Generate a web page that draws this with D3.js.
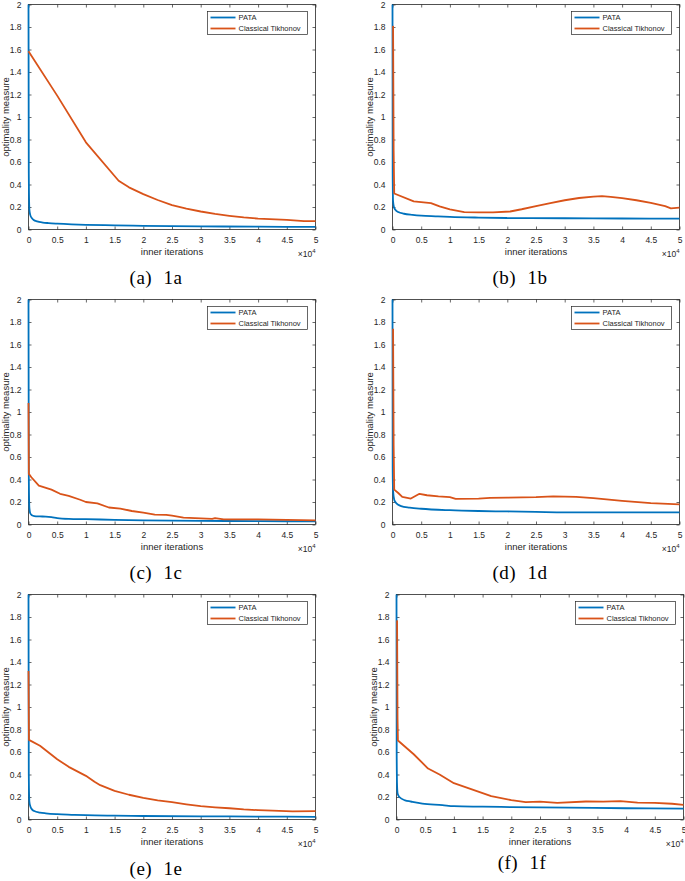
<!DOCTYPE html>
<html>
<head>
<meta charset="utf-8">
<script src="https://cdn.jsdelivr.net/npm/d3@7"></script>
<style>
  html, body { margin: 0; padding: 0; background: #ffffff; }
  svg { display: block; }
</style>
</head>
<body>
<svg id="chart" width="685" height="881"></svg>
<script>
// ---------------- DATA ----------------
const seriesNames = ["PATA", "Classical Tikhonov"];
const panelIds = ["1a", "1b", "1c", "1d", "1e", "1f"];
const panelLetters = ["a", "b", "c", "d", "e", "f"];
const xTickValues = [0, 5000, 10000, 15000, 20000, 25000, 30000, 35000, 40000, 45000, 50000];
const xTickLabels = ["0", "0.5", "1", "1.5", "2", "2.5", "3", "3.5", "4", "4.5", "5"];
const yTickValues = [0, 0.2, 0.4, 0.6, 0.8, 1, 1.2, 1.4, 1.6, 1.8, 2];
const yTickLabels = ["0", "0.2", "0.4", "0.6", "0.8", "1", "1.2", "1.4", "1.6", "1.8", "2"];
const xLabel = "inner iterations";
const yLabel = "optimality measure";

// 1a
const pata1aIter = [0, 50, 150, 300, 600, 900, 1500, 2500, 3500, 5000, 7500, 10000, 15000, 20000, 30000, 40000, 50000];
const pata1aVal  = [2.0, 0.5, 0.18, 0.13, 0.1, 0.085, 0.072, 0.062, 0.057, 0.052, 0.046, 0.042, 0.037, 0.033, 0.028, 0.025, 0.023];
const tikh1aIter = [0, 5000, 10000, 15700, 17500, 20000, 22500, 25000, 27500, 30000, 32500, 35000, 37500, 40000, 45000, 48000, 50000];
const tikh1aVal  = [1.585, 1.19, 0.775, 0.433, 0.375, 0.315, 0.262, 0.217, 0.185, 0.16, 0.138, 0.122, 0.108, 0.097, 0.086, 0.074, 0.074];

// 1b
const pata1bIter = [0, 30, 100, 250, 500, 1000, 2000, 3500, 5000, 7500, 10000, 15000, 20000, 30000, 40000, 50000];
const pata1bVal  = [2.0, 0.5, 0.25, 0.2, 0.175, 0.155, 0.14, 0.13, 0.123, 0.117, 0.112, 0.106, 0.102, 0.1, 0.098, 0.097];
const tikh1bIter = [100, 200, 300, 3700, 6700, 8200, 10000, 12500, 15000, 17500, 20500, 22500, 25000, 27500, 30000, 32500, 35000, 36500, 38000, 40000, 42500, 45000, 47500, 48500, 50000];
const tikh1bVal  = [1.81, 0.7, 0.32, 0.25, 0.235, 0.205, 0.178, 0.155, 0.152, 0.153, 0.16, 0.18, 0.208, 0.235, 0.26, 0.28, 0.293, 0.297, 0.29, 0.278, 0.26, 0.237, 0.207, 0.188, 0.195];

// 1c
const pata1cIter = [0, 50, 150, 300, 600, 1000, 2000, 3000, 4000, 5000, 7000, 10000, 15000, 20000, 30000, 40000, 50000];
const pata1cVal  = [2.0, 0.45, 0.15, 0.1, 0.082, 0.075, 0.072, 0.07, 0.065, 0.057, 0.05, 0.047, 0.042, 0.037, 0.032, 0.03, 0.028];
const tikh1cIter = [0, 60, 500, 1800, 4000, 5500, 7000, 9000, 10000, 12000, 14000, 16000, 18000, 20000, 22000, 24000, 25000, 27000, 30000, 32000, 32500, 34000, 40000, 45000, 50000];
const tikh1cVal  = [1.08, 0.45, 0.42, 0.345, 0.31, 0.273, 0.255, 0.22, 0.2, 0.187, 0.151, 0.142, 0.12, 0.105, 0.087, 0.085, 0.078, 0.062, 0.055, 0.05, 0.056, 0.045, 0.045, 0.042, 0.037];

// 1d
const pata1dIter = [0, 30, 100, 300, 500, 1000, 1500, 3000, 5000, 10000, 15000, 20000, 25000, 30000, 40000, 50000];
const pata1dVal  = [2.0, 0.5, 0.3, 0.22, 0.2, 0.175, 0.163, 0.15, 0.14, 0.127, 0.12, 0.116, 0.112, 0.108, 0.107, 0.107];
const tikh1dIter = [100, 200, 300, 1000, 1700, 3200, 4700, 6000, 8000, 10000, 11000, 15000, 17000, 20000, 25000, 28000, 32000, 35000, 40000, 45000, 50000];
const tikh1dVal  = [1.74, 0.7, 0.31, 0.28, 0.246, 0.231, 0.273, 0.26, 0.25, 0.243, 0.228, 0.23, 0.236, 0.238, 0.243, 0.25, 0.245, 0.235, 0.21, 0.19, 0.178];

// 1e
const pata1eIter = [0, 50, 150, 300, 600, 1000, 2000, 3000, 5000, 7500, 10000, 15000, 20000, 30000, 40000, 50000];
const pata1eVal  = [2.0, 0.4, 0.16, 0.12, 0.09, 0.075, 0.062, 0.055, 0.047, 0.042, 0.038, 0.034, 0.031, 0.028, 0.026, 0.024];
const tikh1eIter = [0, 80, 2000, 5000, 7000, 10000, 11500, 12500, 15000, 17500, 20000, 22500, 25000, 27500, 30000, 32500, 35000, 37500, 40000, 42500, 46000, 50000];
const tikh1eVal  = [1.32, 0.708, 0.655, 0.536, 0.468, 0.388, 0.335, 0.305, 0.255, 0.22, 0.193, 0.17, 0.154, 0.135, 0.118, 0.108, 0.1, 0.09, 0.083, 0.078, 0.072, 0.075];

// 1f
const pata1fIter = [0, 30, 100, 200, 500, 1500, 2500, 4500, 8000, 10000, 15000, 20000, 30000, 40000, 50000];
const pata1fVal  = [2.0, 0.6, 0.3, 0.23, 0.2, 0.17, 0.16, 0.142, 0.128, 0.118, 0.114, 0.11, 0.105, 0.1, 0.097];
const tikh1fIter = [100, 180, 250, 3000, 5500, 7500, 10000, 13000, 16500, 20000, 22500, 25000, 28000, 33000, 36000, 39000, 42000, 45000, 48000, 50000];
const tikh1fVal  = [1.77, 0.9, 0.702, 0.58, 0.453, 0.4, 0.323, 0.27, 0.207, 0.172, 0.155, 0.158, 0.148, 0.16, 0.158, 0.163, 0.15, 0.148, 0.14, 0.13];

const pataIters = [pata1aIter, pata1bIter, pata1cIter, pata1dIter, pata1eIter, pata1fIter];
const pataVals  = [pata1aVal, pata1bVal, pata1cVal, pata1dVal, pata1eVal, pata1fVal];
const tikhIters = [tikh1aIter, tikh1bIter, tikh1cIter, tikh1dIter, tikh1eIter, tikh1fIter];
const tikhVals  = [tikh1aVal, tikh1bVal, tikh1cVal, tikh1dVal, tikh1eVal, tikh1fVal];

// ---------------- LAYOUT ----------------
const plotW = 287, plotH = 225;
const plotLefts = [28.5, 392.5, 28.5, 392.5, 28.5, 396.5];
const plotTops  = [4.5, 4.5, 299.5, 299.5, 594.5, 594.5];
const captionX  = [156, 520, 156, 520, 156, 522];
const captionY  = [284, 284, 579, 579, 875, 869];
const colors = ["#0072BD", "#D95319"];
const axisColor = "#262626";
const sansFont = "'Liberation Sans', Arial, Helvetica, sans-serif";
const serifFont = "'Liberation Serif', 'Times New Roman', serif";

const svg = d3.select("#chart");

panelIds.forEach((pid, i) => {
  const L = plotLefts[i], T = plotTops[i];
  const x = d3.scaleLinear().domain([0, 50000]).range([L, L + plotW]);
  const y = d3.scaleLinear().domain([0, 2]).range([T + plotH, T]);
  const g = svg.append("g").attr("class", "panel-" + pid);

  // box
  g.append("rect")
    .attr("x", L).attr("y", T).attr("width", plotW).attr("height", plotH)
    .attr("fill", "none").attr("stroke", axisColor).attr("stroke-width", 0.8);

  const tickLen = 3;
  const xb = d3.axisBottom(x).tickValues(xTickValues)
    .tickFormat((d, k) => xTickLabels[k]).tickSizeInner(-tickLen).tickSizeOuter(0).tickPadding(7);
  const gxb = g.append("g").attr("transform", `translate(0,${T + plotH})`).call(xb);
  const xt = d3.axisTop(x).tickValues(xTickValues).tickFormat("")
    .tickSizeInner(-tickLen).tickSizeOuter(0);
  const gxt = g.append("g").attr("transform", `translate(0,${T})`).call(xt);
  const yl = d3.axisLeft(y).tickValues(yTickValues)
    .tickFormat((d, k) => yTickLabels[k]).tickSizeInner(-tickLen).tickSizeOuter(0).tickPadding(7);
  const gyl = g.append("g").attr("transform", `translate(${L},0)`).call(yl);
  const yr = d3.axisRight(y).tickValues(yTickValues).tickFormat("")
    .tickSizeInner(-tickLen).tickSizeOuter(0);
  const gyr = g.append("g").attr("transform", `translate(${L + plotW},0)`).call(yr);

  [gxb, gxt, gyl, gyr].forEach(a => {
    a.select(".domain").remove();
    a.selectAll(".tick line").attr("stroke", axisColor).attr("stroke-width", 0.7);
    a.selectAll(".tick text").attr("fill", axisColor)
      .style("font-family", sansFont).style("font-size", "8.5px");
  });

  // axis labels
  g.append("text")
    .attr("x", L + plotW / 2).attr("y", T + plotH + 25.5)
    .attr("text-anchor", "middle").attr("fill", axisColor)
    .style("font-family", sansFont).style("font-size", "9.5px")
    .text(xLabel);
  g.append("text")
    .attr("transform", `translate(${L - 23.5},${T + plotH / 2}) rotate(-90)`)
    .attr("text-anchor", "middle").attr("dominant-baseline", "central").attr("fill", axisColor)
    .style("font-family", sansFont).style("font-size", "9.5px")
    .text(yLabel);
  const ex = g.append("text")
    .attr("x", L + plotW).attr("y", T + plotH + 27.5)
    .attr("text-anchor", "end").attr("fill", axisColor)
    .style("font-family", sansFont).style("font-size", "8.5px");
  ex.append("tspan").text("\u00d710");
  ex.append("tspan").attr("dy", -4).style("font-size", "6px").text("4");

  // lines (PATA first, Tikhonov drawn on top)
  const pataLine = d3.line().x(d => x(d[0])).y(d => y(d[1])).curve(d3.curveMonotoneX);
  const tikhLine = d3.line().x(d => x(d[0])).y(d => y(d[1])).curve(d3.curveLinear);
  const pataData = pataIters[i].map((v, k) => [v, pataVals[i][k]]);
  const tikhData = tikhIters[i].map((v, k) => [v, tikhVals[i][k]]);
  g.append("path").datum(pataData).attr("d", pataLine)
    .attr("fill", "none").attr("stroke", colors[0]).attr("stroke-width", 1.8)
    .attr("stroke-linejoin", "round");
  g.append("path").datum(tikhData).attr("d", tikhLine)
    .attr("fill", "none").attr("stroke", colors[1]).attr("stroke-width", 1.8)
    .attr("stroke-linejoin", "round");

  // legend
  const lw = 100, lh = 23;
  const lx = L + plotW - 8 - lw, ly = T + 7;
  const lg = g.append("g").attr("class", "legend");
  lg.append("rect").attr("x", lx).attr("y", ly).attr("width", lw).attr("height", lh)
    .attr("fill", "#ffffff").attr("stroke", axisColor).attr("stroke-width", 0.7);
  seriesNames.forEach((name, k) => {
    const yy = ly + 6 + k * 11;
    lg.append("line").attr("x1", lx + 3).attr("x2", lx + 28).attr("y1", yy).attr("y2", yy)
      .attr("stroke", colors[k]).attr("stroke-width", 1.8);
    lg.append("text").attr("x", lx + 31).attr("y", yy).attr("dominant-baseline", "central")
      .attr("fill", axisColor).style("font-family", sansFont).style("font-size", "7.5px")
      .text(name);
  });

  // caption
  svg.append("text")
    .attr("x", captionX[i]).attr("y", captionY[i])
    .attr("text-anchor", "middle").attr("fill", "#000")
    .style("font-family", serifFont).style("font-size", "19px")
    .style("letter-spacing", "0.5px").style("word-spacing", "6px")
    .text(`(${panelLetters[i]}) ${pid}`);
});
</script>
</body>
</html>
